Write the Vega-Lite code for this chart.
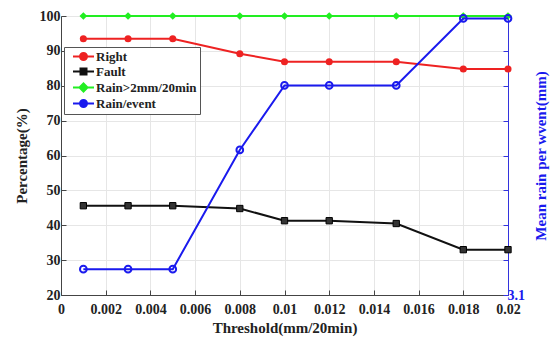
{
  "$schema": "https://vega.github.io/schema/vega-lite/v6.json",
  "width": 447,
  "height": 279,
  "autosize": {"type": "none"},
  "padding": {"left": 61, "top": 16, "right": 45, "bottom": 46},
  "background": "white",
  "config": {
    "font": "Liberation Serif",
    "view": {"stroke": "#444", "strokeWidth": 1},
    "axis": {"labelFont": "Liberation Serif", "titleFont": "Liberation Serif", "labelFontWeight": "bold", "titleFontWeight": "bold", "labelFontSize": 14, "titleFontSize": 15, "labelColor": "#222", "titleColor": "#222", "gridColor": "#e6e6e6", "domainColor": "#444", "tickColor": "#444", "tickSize": -5, "labelPadding": 3},
    "legend": {"labelFont": "Liberation Serif", "labelFontWeight": "bold", "labelFontSize": 13, "labelColor": "#222"}
  },
  "data": {"values": [
    {"t": 0.001, "series": "Right", "v": 93.5},
    {"t": 0.003, "series": "Right", "v": 93.5},
    {"t": 0.005, "series": "Right", "v": 93.5},
    {"t": 0.008, "series": "Right", "v": 89.2},
    {"t": 0.01, "series": "Right", "v": 86.9},
    {"t": 0.012, "series": "Right", "v": 86.9},
    {"t": 0.015, "series": "Right", "v": 86.9},
    {"t": 0.018, "series": "Right", "v": 84.8},
    {"t": 0.02, "series": "Right", "v": 84.8},
    {"t": 0.001, "series": "Fault", "v": 45.6},
    {"t": 0.003, "series": "Fault", "v": 45.6},
    {"t": 0.005, "series": "Fault", "v": 45.6},
    {"t": 0.008, "series": "Fault", "v": 44.8},
    {"t": 0.01, "series": "Fault", "v": 41.3},
    {"t": 0.012, "series": "Fault", "v": 41.3},
    {"t": 0.015, "series": "Fault", "v": 40.5},
    {"t": 0.018, "series": "Fault", "v": 33.0},
    {"t": 0.02, "series": "Fault", "v": 33.0},
    {"t": 0.001, "series": "Rain>2mm/20min", "v": 100},
    {"t": 0.003, "series": "Rain>2mm/20min", "v": 100},
    {"t": 0.005, "series": "Rain>2mm/20min", "v": 100},
    {"t": 0.008, "series": "Rain>2mm/20min", "v": 100},
    {"t": 0.01, "series": "Rain>2mm/20min", "v": 100},
    {"t": 0.012, "series": "Rain>2mm/20min", "v": 100},
    {"t": 0.015, "series": "Rain>2mm/20min", "v": 100},
    {"t": 0.018, "series": "Rain>2mm/20min", "v": 100},
    {"t": 0.02, "series": "Rain>2mm/20min", "v": 100},
    {"t": 0.001, "series": "Rain/event", "v": 27.4},
    {"t": 0.003, "series": "Rain/event", "v": 27.4},
    {"t": 0.005, "series": "Rain/event", "v": 27.4},
    {"t": 0.008, "series": "Rain/event", "v": 61.6},
    {"t": 0.01, "series": "Rain/event", "v": 80.1},
    {"t": 0.012, "series": "Rain/event", "v": 80.1},
    {"t": 0.015, "series": "Rain/event", "v": 80.1},
    {"t": 0.018, "series": "Rain/event", "v": 99.3},
    {"t": 0.02, "series": "Rain/event", "v": 99.3}
  ]},
  "layer": [
    {
      "transform": [{"filter": "datum.series !== 'Rain/event'"}],
      "encoding": {
        "x": {"field": "t", "type": "quantitative", "scale": {"domain": [0, 0.02], "nice": false}, "axis": {"values": [0, 0.002, 0.004, 0.006, 0.008, 0.01, 0.012, 0.014, 0.016, 0.018, 0.02], "labelExpr": "datum.value == 0 ? '0' : format(datum.value, '~g')", "title": "Threshold(mm/20min)", "grid": true, "titlePadding": 4, "labelPadding": 12, "labelFlush": false, "labelFont": "Liberation Serif", "titleFont": "Liberation Serif"}},
        "y": {"field": "v", "type": "quantitative", "scale": {"domain": [20, 100], "nice": false}, "axis": {"orient": "left", "values": [20, 30, 40, 50, 60, 70, 80, 90, 100], "title": "Percentage(%)", "grid": true, "titlePadding": 10, "labelPadding": 6, "labelFlush": false, "labelFont": "Liberation Serif", "titleFont": "Liberation Serif"}}
      },
      "layer": [
        {
          "mark": {"type": "point", "filled": true, "clip": true, "size": 100, "strokeWidth": 2, "opacity": 1},
          "encoding": {
            "y": {"field": "v", "type": "quantitative", "scale": {"domain": [1000, 1100]}, "axis": null},
            "color": {"field": "series", "type": "nominal", "scale": {"domain": ["Right", "Fault", "Rain>2mm/20min", "Rain/event"], "range": ["#ee2222", "#111111", "#22ee22", "#1a1aee"]}, "legend": {"title": null, "orient": "none", "legendX": 3, "legendY": 31, "fillColor": "white", "strokeColor": "#555", "padding": 3, "symbolSize": 100, "symbolStrokeWidth": 2, "rowPadding": 0, "labelOffset": 6, "symbolOffset": 10}},
            "shape": {"field": "series", "type": "nominal", "scale": {"domain": ["Right", "Fault", "Rain>2mm/20min", "Rain/event"], "range": [
              "M-2.1,0L2.1,0M-0.7,0A0.7,0.7,0,1,1,0.7,0A0.7,0.7,0,1,1,-0.7,0Z",
              "M-2.1,0L2.1,0M-0.6,-0.6L0.6,-0.6L0.6,0.6L-0.6,0.6Z",
              "M-2.1,0L2.1,0M-0.8,0L0,-0.8L0.8,0L0,0.8Z",
              "M-2.1,0L2.1,0M-0.7,0A0.7,0.7,0,1,1,0.7,0A0.7,0.7,0,1,1,-0.7,0Z"
            ]}, "legend": {"title": null, "orient": "none", "legendX": 3, "legendY": 31, "fillColor": "white", "strokeColor": "#555", "padding": 3, "symbolSize": 100, "symbolStrokeWidth": 2, "rowPadding": 0, "labelOffset": 6, "symbolOffset": 10}}
          }
        },
        {
          "encoding": {
            "color": {"field": "series", "type": "nominal", "scale": {"domain": ["Right", "Fault", "Rain>2mm/20min", "Rain/event"], "range": ["#ee2222", "#111111", "#22ee22", "#1a1aee"]}}
          },
          "layer": [
            {"mark": {"type": "line", "strokeWidth": 2}},
            {"transform": [{"filter": "datum.series === 'Right'"}], "mark": {"type": "point", "shape": "circle", "filled": true, "size": 50, "opacity": 1}},
            {"transform": [{"filter": "datum.series === 'Fault'"}], "mark": {"type": "point", "shape": "square", "filled": true, "size": 40, "opacity": 1, "stroke": "#000", "strokeWidth": 1, "fill": "#333"}},
            {"transform": [{"filter": "datum.series === 'Rain>2mm/20min'"}], "mark": {"type": "point", "shape": "diamond", "filled": true, "size": 60, "opacity": 1}}
          ]
        }
      ],
      "resolve": {"scale": {"y": "independent"}}
    },
    {
      "transform": [{"filter": "datum.series === 'Rain/event'"}],
      "encoding": {
        "x": {"field": "t", "type": "quantitative", "scale": {"domain": [0, 0.02], "nice": false}},
        "y": {"field": "v", "type": "quantitative", "scale": {"domain": [20, 100], "nice": false}, "axis": {"orient": "right", "values": [20, 30, 40, 50, 60, 70, 80, 90], "labelExpr": "datum.value == 20 ? '3.1' : ''", "title": "Mean rain per wvent(mm)", "titleAngle": 270, "titleColor": "#1a1aee", "labelColor": "#1a1aee", "domainColor": "#3333dd", "tickColor": "#3333dd", "grid": false, "titlePadding": 24, "labelPadding": 4, "labelFlush": false, "labelFont": "Liberation Serif", "titleFont": "Liberation Serif"}},
        "color": {"field": "series", "type": "nominal", "scale": {"domain": ["Right", "Fault", "Rain>2mm/20min", "Rain/event"], "range": ["#ee2222", "#111111", "#22ee22", "#1a1aee"]}}
      },
      "layer": [
        {"mark": {"type": "line", "strokeWidth": 2}},
        {"mark": {"type": "point", "filled": false, "size": 45, "strokeWidth": 2, "opacity": 1}}
      ]
    }
  ],
  "resolve": {"scale": {"y": "independent"}}
}
